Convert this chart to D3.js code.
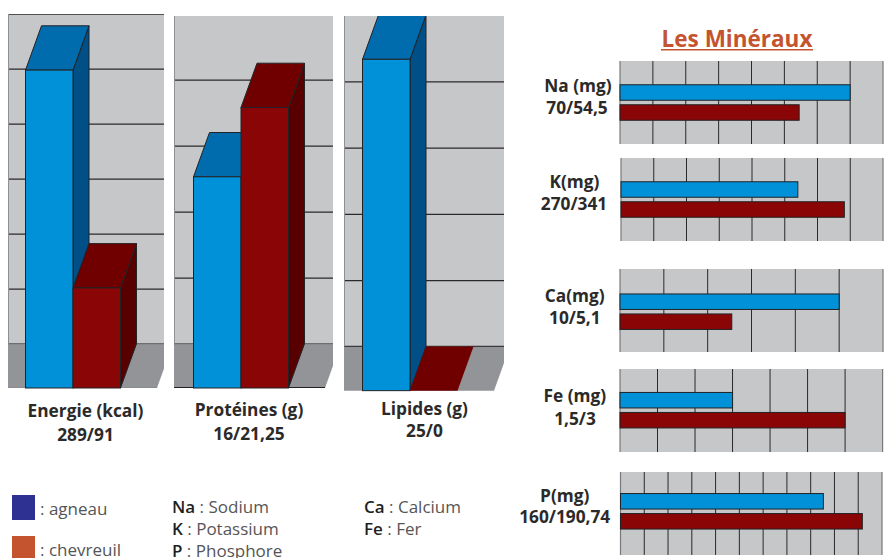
<!DOCTYPE html>
<html>
<head>
<meta charset="utf-8">
<script src="https://cdn.jsdelivr.net/npm/d3@7/dist/d3.min.js"></script>
<style>
html,body{margin:0;padding:0;background:#fff;}
svg{display:block;font-family:"Open Sans","Noto Sans",sans-serif;}
.tick text{display:none;}
.big{font-weight:700;font-size:17.3px;fill:#2b2a29;text-anchor:middle;}
.key{font-size:17px;fill:#555556;font-weight:400;}
.key .abbr{fill:#1f1f1f;font-weight:600;}
</style>
</head>
<body>
<svg id="chart" width="885" height="558"></svg>
<script>
// Species compared throughout the figure
const species = ["agneau", "chevreuil"];

// Macronutrients: one 3D column panel each
const energyValues = [289, 91];
const proteinValues = [16, 21.25];
const lipidValues = [25, 0];

// Minerals: one horizontal bar panel each
const sodiumValues = [70, 54.5];
const potassiumValues = [270, 341];
const calciumValues = [10, 5.1];
const ironValues = [1.5, 3];
const phosphorusValues = [160, 190.74];

const C = {
  wall: "#c6c7c9", floor: "#929497", line: "#2a2a2c", edge: "#222326",
  front: ["#0091d8", "#8a0505"],
  top: ["#006cae", "#700000"],
  side: ["#004f86", "#580000"],
  swatch: ["#2e3192", "#c4532f"],
  title: "#c4532f"
};

const svg = d3.select("#chart");
const DX = 16, DY = 44.3;

const columnPanels = [
  {id: "e", values: energyValues, max: 300, step: 50, span: 330, wall: [8, 164, 14], base: 388, bars: [25.5, 120.5],
   title: ["Energie (kcal)", "289/91"], tx: 85.5, ty: [417, 441], floorEdge: "#8a8b8e", zeroLine: "#6d6e71"},
  {id: "p", values: proteinValues, max: 25, step: 5, span: 330, wall: [174, 333, 16], base: 388, bars: [193.5, 288.5],
   title: ["Protéines (g)", "16/21,25"], tx: 249, ty: [416, 440], floorEdge: "#222", zeroLine: "#6d6e71"},
  {id: "l", values: lipidValues, max: 25, step: 5, span: 331.4, wall: [344, 504, 16], base: 390.7, bars: [362.5, 457.5],
   title: ["Lipides (g)", "25/0"], tx: 424.5, ty: [415, 437], floorEdge: "none", zeroLine: "#3a3a3c"}
];

columnPanels.forEach(p => {
  const [x0, x1, top] = p.wall;
  const backY = p.base - DY;
  const y = d3.scaleLinear().domain([0, p.max]).range([p.base, p.base - p.span]);
  const x = d3.scaleBand().domain(species).range(p.bars);

  const clip = "clip-" + p.id;
  svg.append("clipPath").attr("id", clip).append("rect")
    .attr("x", x0).attr("y", top).attr("width", x1 - x0).attr("height", p.base - top + 1);
  const g = svg.append("g").attr("clip-path", `url(#${clip})`);

  // back wall and floor
  g.append("rect").attr("x", x0).attr("y", top).attr("width", x1 - x0).attr("height", backY - top).attr("fill", C.wall);
  const floorRight = p.bars[1] + 36.5;
  g.append("path").attr("fill", C.floor)
    .attr("d", d3.line()([[x0, backY], [floorRight + DX, backY], [floorRight, p.base], [x0, p.base]]) + "Z");
  g.append("line").attr("x1", x0).attr("x2", floorRight).attr("y1", p.base - .5).attr("y2", p.base - .5)
    .attr("stroke", p.floorEdge).attr("stroke-width", 1);

  // horizontal gridlines sit on the wall, one depth step behind the bars
  const axis = d3.axisRight(d3.scaleLinear().domain(y.domain()).range([backY, backY - p.span]))
    .tickValues(d3.range(p.step, p.max + p.step, p.step)).tickSize(x1 - x0).tickFormat("");
  const ag = g.append("g").attr("transform", `translate(${x0},0)`).call(axis);
  ag.select(".domain").remove();
  ag.selectAll("line").attr("stroke", C.line).attr("stroke-width", 1.2);
  g.append("line").attr("x1", x0).attr("x2", x1).attr("y1", backY).attr("y2", backY)
    .attr("stroke", p.zeroLine).attr("stroke-width", 1.2);
  g.append("line").attr("x1", x0 + .5).attr("x2", x0 + .5).attr("y1", top).attr("y2", backY)
    .attr("stroke", "#8f9094").attr("stroke-width", 1);

  // extruded bars, back series first so the nearer faces overlap it
  species.forEach((s, i) => {
    const v = p.values[i], bx = x(s), w = x.bandwidth(), ty = y(v), by = y(0);
    const bar = g.append("g");
    const stroke = v === 0 ? "none" : C.edge;
    bar.append("path").attr("fill", C.side[i]).attr("stroke", stroke)
      .attr("d", d3.line()([[bx + w, ty], [bx + w + DX, ty - DY], [bx + w + DX, by - DY], [bx + w, by]]) + "Z");
    bar.append("path").attr("fill", C.top[i]).attr("stroke", stroke)
      .attr("d", d3.line()([[bx, ty], [bx + DX, ty - DY], [bx + w + DX, ty - DY], [bx + w, ty]]) + "Z");
    if (v > 0) {
      bar.append("rect").attr("x", bx).attr("y", ty).attr("width", w).attr("height", by - ty)
        .attr("fill", C.front[i]).attr("stroke", stroke);
    }
  });

  p.title.forEach((t, i) => svg.append("text").attr("class", "big")
    .attr("x", p.tx).attr("y", p.ty[i]).text(t));
});

// Panel title
svg.append("text").attr("x", 737).attr("y", 47).attr("text-anchor", "middle")
  .attr("fill", C.title).attr("font-weight", 700).attr("font-size", 22.5).text("Les Minéraux");
svg.append("line").attr("x1", 661).attr("x2", 813).attr("y1", 49.7).attr("y2", 49.7)
  .attr("stroke", C.title).attr("stroke-width", 1.4);

const mineralPanels = [
  {values: sodiumValues, max: 80, n: 8, box: [620, 883, 61], shift: 0,
   label: ["Na (mg)", "70/54,5"], lx: [578, 577], ly: [92, 114]},
  {values: potassiumValues, max: 400, n: 8, box: [621, 883, 158], shift: 0,
   label: ["K(mg)", "270/341"], lx: [574.5, 574], ly: [188, 210]},
  {values: calciumValues, max: 12, n: 6, box: [620, 883, 269], shift: 1.2,
   label: ["Ca(mg)", "10/5,1"], lx: [574.7, 574.8], ly: [302, 324]},
  {values: ironValues, max: 3.5, n: 7, box: [620, 882.6, 369], shift: -.3,
   label: ["Fe (mg)", "1,5/3"], lx: [574.8, 575], ly: [402, 424.5]},
  {values: phosphorusValues, max: 206.25, n: 11, box: [620.5, 882, 472], shift: -2.2,
   label: ["P(mg)", "160/190,74"], lx: [564.7, 564.7], ly: [502, 523]}
];

const PANEL_H = 83;
mineralPanels.forEach(p => {
  const [x0, x1, top] = p.box;
  const x = d3.scaleLinear().domain([0, p.max]).range([x0, x1]);
  const y = d3.scaleBand().domain(species)
    .range([top + p.shift, top + PANEL_H + p.shift]).paddingInner(.225).paddingOuter(1.1875);

  svg.append("rect").attr("x", x0).attr("y", top).attr("width", x1 - x0).attr("height", PANEL_H).attr("fill", C.wall);

  const axis = d3.axisBottom(x).tickValues(d3.range(p.n + 1).map(k => p.max * k / p.n))
    .tickSize(-PANEL_H).tickFormat("").offset(0);
  const ag = svg.append("g").attr("transform", `translate(0,${top + PANEL_H})`).call(axis);
  ag.select(".domain").remove();
  ag.selectAll("line").attr("stroke", C.line).attr("stroke-width", 1);
  ag.selectAll(".tick").filter((d, i) => i === 0 || i === p.n).select("line")
    .attr("stroke", "#77787b").attr("stroke-width", 1.2);

  svg.append("g").selectAll("rect").data(p.values).join("rect")
    .attr("x", x(0)).attr("y", (d, i) => y(species[i]))
    .attr("width", d => x(d) - x(0)).attr("height", y.bandwidth())
    .attr("fill", (d, i) => C.front[i]).attr("stroke", C.edge).attr("stroke-width", 1);

  p.label.forEach((t, i) => svg.append("text").attr("class", "big")
    .attr("x", p.lx[i]).attr("y", p.ly[i]).text(t));
});

// Colour key
const swatchRows = [[495, ": agneau", 515], [536, ": chevreuil", 556]];
swatchRows.forEach((r, i) => {
  svg.append("rect").attr("x", 12).attr("y", r[0]).attr("width", 23).attr("height", 25).attr("fill", C.swatch[i]);
  svg.append("text").attr("class", "key").attr("x", 40).attr("y", r[2]).text(r[1]);
});

// Abbreviations for the mineral names
const abbreviations = [
  ["Na", "Sodium", 172, 513], ["K", "Potassium", 172, 535], ["P", "Phosphore", 172, 557],
  ["Ca", "Calcium", 364, 513], ["Fe", "Fer", 364, 535]
];
abbreviations.forEach(a => {
  const t = svg.append("text").attr("class", "key").attr("x", a[2]).attr("y", a[3]);
  t.append("tspan").attr("class", "abbr").text(a[0]);
  t.append("tspan").text(" : " + a[1]);
});
</script>
</body>
</html>
